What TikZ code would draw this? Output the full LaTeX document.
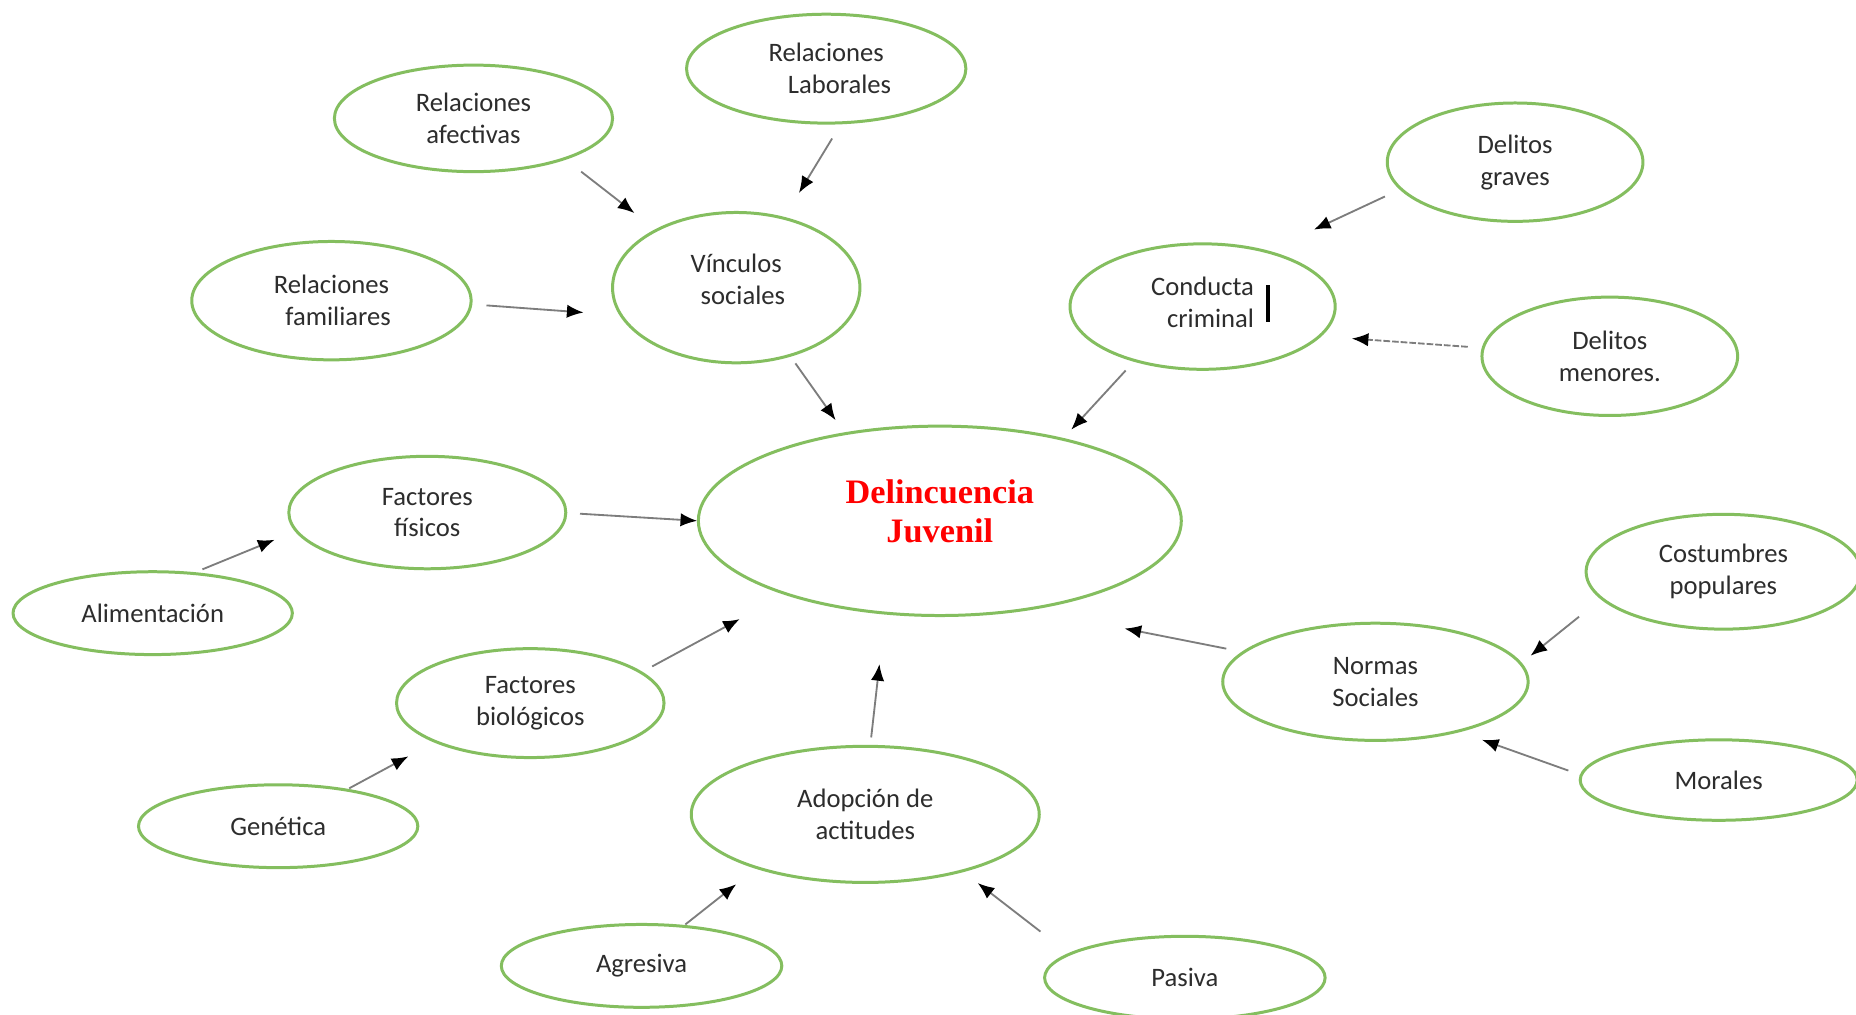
\documentclass[tikz,border=0pt]{standalone}
\usepackage{fontspec}
\setmainfont{Carlito}
\newfontfamily\titlefont{Liberation Serif}
\usetikzlibrary{shapes.geometric,arrows.meta}
\definecolor{elgreen}{RGB}{132,190,95}
\definecolor{txtgray}{RGB}{45,45,45}
\definecolor{arrgray}{RGB}{125,125,125}
\begin{document}
\begin{tikzpicture}[x=0.0125cm,y=-0.0125cm,
  bub/.style={ellipse, draw=elgreen, line width=0.9pt, inner sep=0pt, align=center,
    font=\fontsize{8}{9.6}\selectfont, text=txtgray},
  sz/.style 2 args={minimum width=#1*0.0125cm, minimum height=#2*0.0125cm},
  arr/.style={draw=arrgray, line width=0.55pt, -{Latex[length=5pt,width=4pt,color=black]}},
  title/.style={font=\titlefont\bfseries\fontsize{10.3}{11.8}\selectfont, text=red}]
\useasboundingbox (0,0) rectangle (1568,857);
\fill[white] (0,0) rectangle (1568,857);
\clip (0,0) rectangle (1568,857);

\node[bub,sz={235}{90}] (afe) at (400,100) {Relaciones\\afectivas};
\node[bub,sz={236}{92}] (lab) at (698,58) {Relaciones\\\hspace*{8pt}Laborales};
\node[bub,sz={209}{127}] (vin) at (622,243) {Vínculos\\\hspace*{4pt}sociales\\[-4.6pt]};
\node[bub,sz={236}{100}] (fam) at (280,254) {Relaciones\\\hspace*{4pt}familiares};
\node[bub,sz={224}{106},align=right] (con) at (1016,259) {Conducta\\criminal\\[-6.8pt]};
\node[bub,sz={216}{100}] (gra) at (1280,137) {Delitos\\graves};
\node[bub,sz={216}{100}] (men) at (1360,301) {Delitos\\menores.};
\node[bub,sz={408}{160},title] (del) at (794,440) {Delincuencia\\Juvenil\\[-5.8pt]};
\node[bub,sz={234}{95}] (fis) at (361,433) {Factores\\físicos};
\node[bub,sz={236}{70}] (ali) at (129,518) {Alimentación};
\node[bub,sz={226}{92}] (bio) at (448,594) {Factores\\biológicos};
\node[bub,sz={236}{70}] (gen) at (235,698) {Genética};
\node[bub,sz={294}{115}] (ado) at (731,688) {Adopción de\\actitudes};
\node[bub,sz={237}{70}] (agr) at (542,816) {Agresiva};
\node[bub,sz={237}{70}] (pas) at (1001,826) {Pasiva};
\node[bub,sz={258}{99}] (nor) at (1162,576) {Normas\\Sociales};
\node[bub,sz={232}{97}] (cos) at (1456,483) {Costumbres\\populares};
\node[bub,sz={234}{68}] (mor) at (1452,659) {Morales};

% text cursor bar
\draw[line width=1.2pt,black] ([shift={(55,-18)}]con.center) -- ([shift={(55,13)}]con.center);

\draw[arr] ([shift={(91,45)}]afe.center) -- ([shift={(-86,-63)}]vin.center);
\draw[arr] ([shift={(5,59)}]lab.center) -- ([shift={(53,-80)}]vin.center);
\draw[arr] ([shift={(131,4)}]fam.center) -- ([shift={(-129,21)}]vin.center);
\draw[arr] ([shift={(50,64)}]vin.center) -- ([shift={(-88,-85)}]del.center);
\draw[arr] ([shift={(-110,29)}]gra.center) -- ([shift={(94,-65)}]con.center);
\draw[arr,dash pattern=on 2pt off 0.6pt] ([shift={(-120,-8)}]men.center) -- ([shift={(126,27)}]con.center);
\draw[arr] ([shift={(-65,54)}]con.center) -- ([shift={(111,-77)}]del.center);
\draw[arr] ([shift={(129,1)}]fis.center) -- ([shift={(-205,0)}]del.center);
\draw[arr] ([shift={(42,-37)}]ali.center) -- ([shift={(-129,23)}]fis.center);
\draw[arr] ([shift={(103,-31)}]bio.center) -- ([shift={(-169,83)}]del.center);
\draw[arr] ([shift={(60,-32)}]gen.center) -- ([shift={(-103,45)}]bio.center);
\draw[arr] ([shift={(5,-65)}]ado.center) -- ([shift={(-51,121)}]del.center);
\draw[arr] ([shift={(37,-35)}]agr.center) -- ([shift={(-109,59)}]ado.center);
\draw[arr] ([shift={(-122,-39)}]pas.center) -- ([shift={(95,58)}]ado.center);
\draw[arr] ([shift={(-126,-28)}]nor.center) -- ([shift={(156,91)}]del.center);
\draw[arr] ([shift={(-122,38)}]cos.center) -- ([shift={(131,-22)}]nor.center);
\draw[arr] ([shift={(-127,-8)}]mor.center) -- ([shift={(90,49)}]nor.center);
\end{tikzpicture}
\end{document}
